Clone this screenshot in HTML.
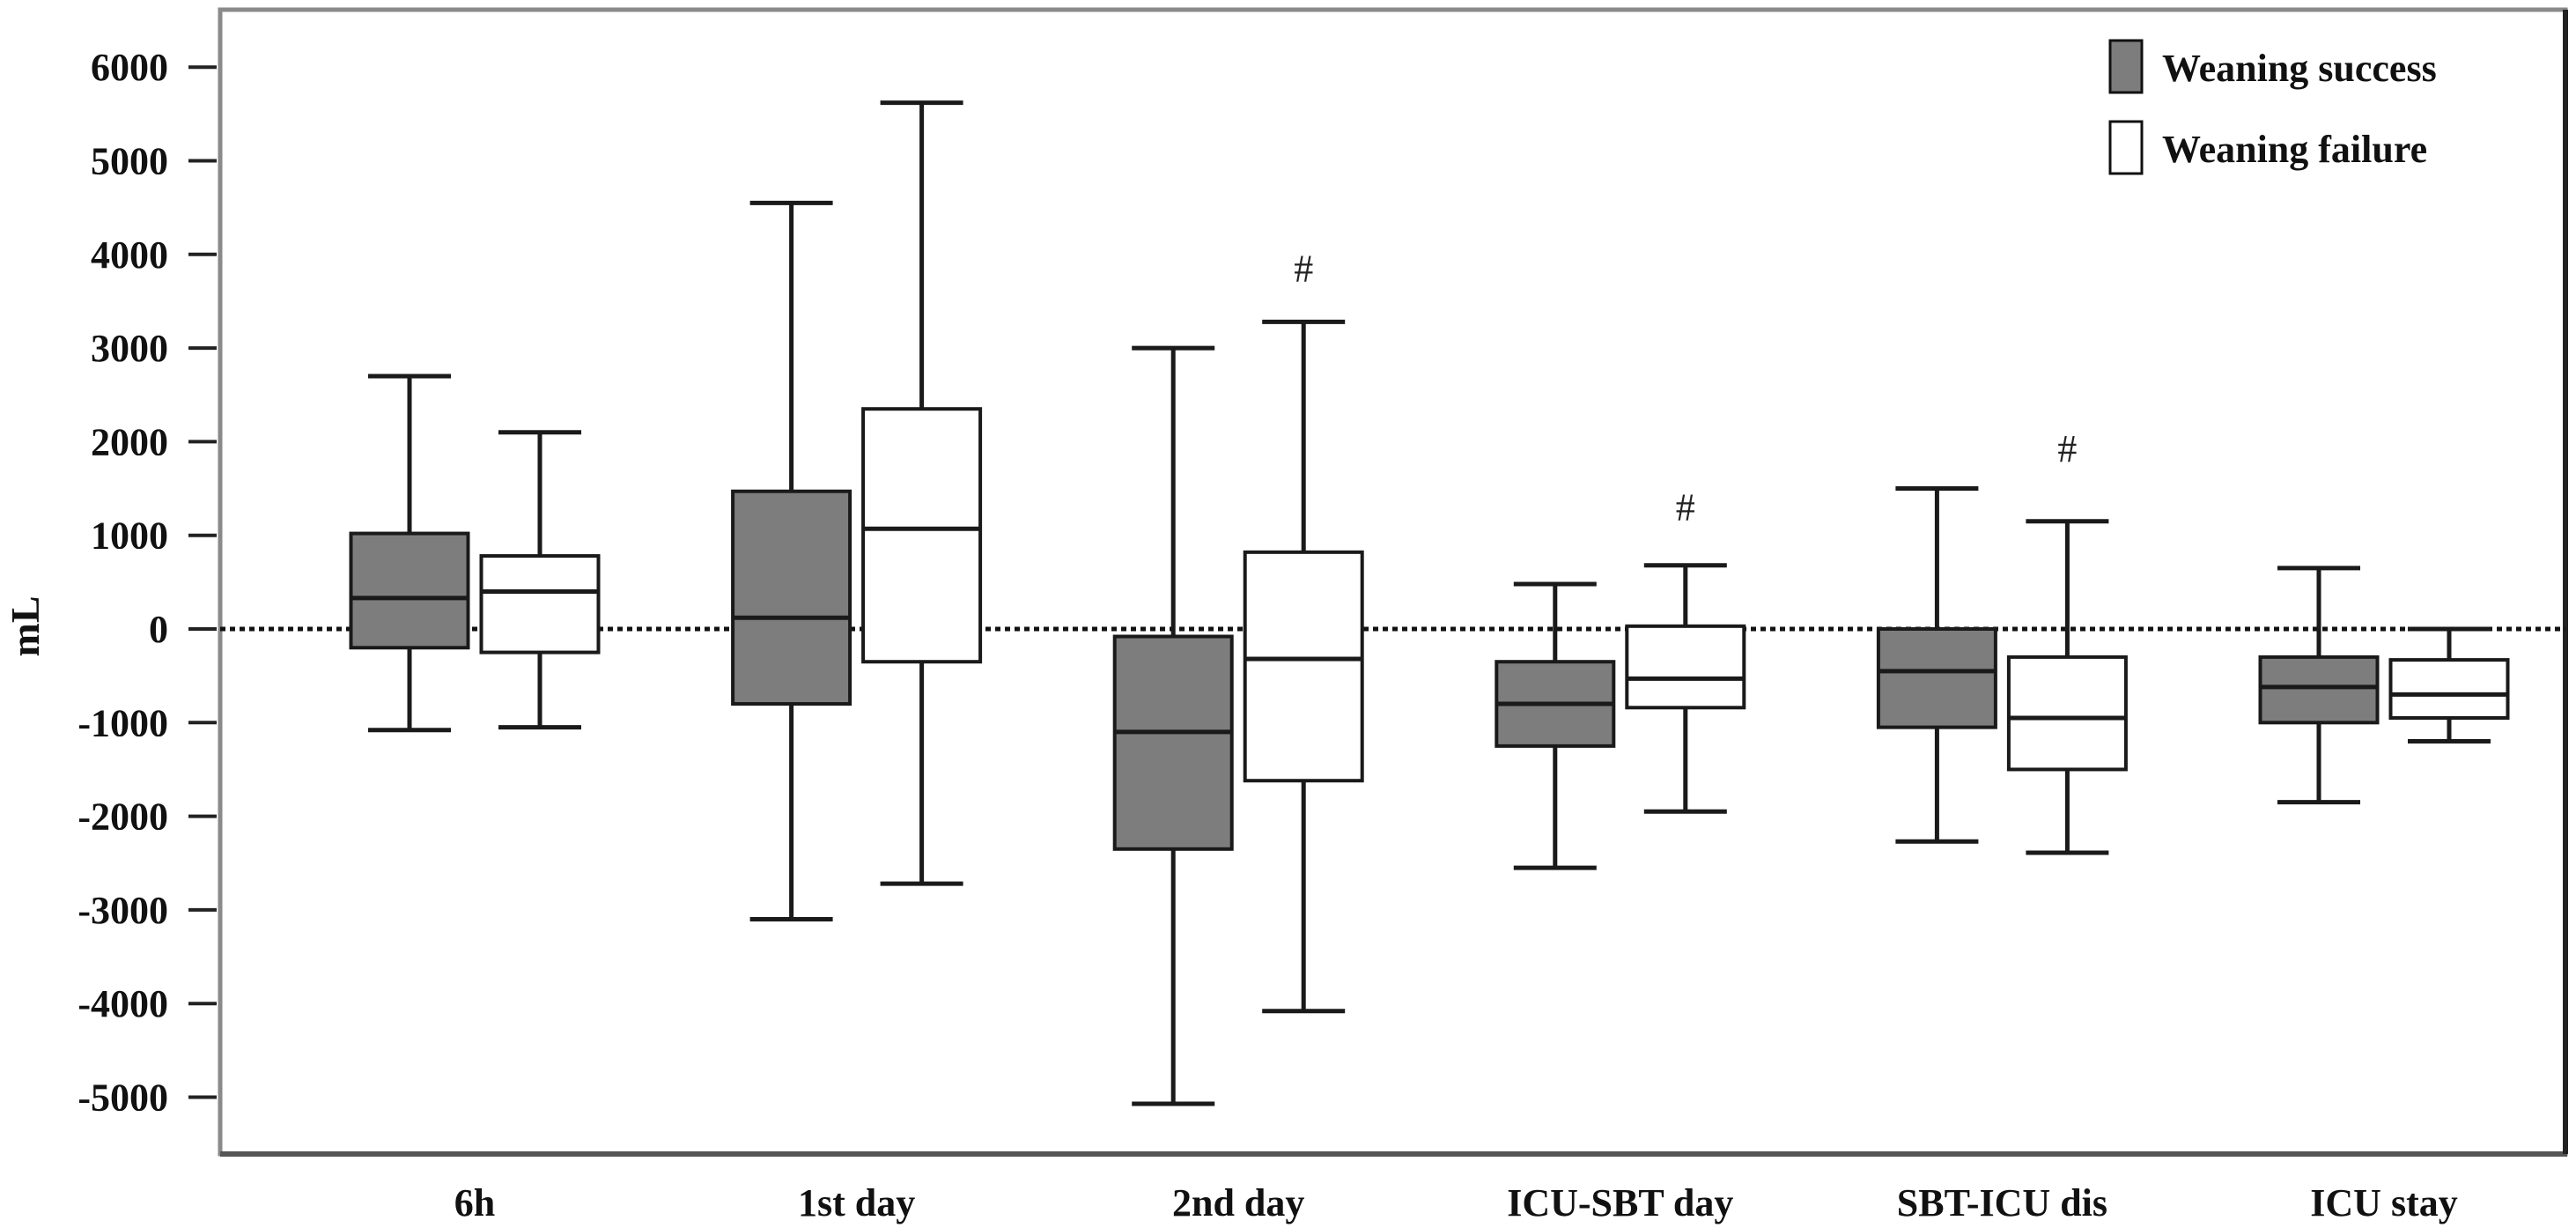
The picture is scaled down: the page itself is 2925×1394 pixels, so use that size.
<!DOCTYPE html>
<html><head><meta charset="utf-8"><style>
html,body{margin:0;padding:0;background:#fff;}
svg{display:block;font-family:"Liberation Serif",serif;}
</style></head><body>
<svg id="chart" width="2925" height="1394" viewBox="0 0 2925 1394" xmlns="http://www.w3.org/2000/svg">
<rect x="0" y="0" width="2925" height="1394" fill="#fff"/>
<g id="axes"></g>
<g id="plot"></g>
<g>
 <rect x="2396" y="46" width="36" height="59" fill="#7d7d7d" stroke="#111" stroke-width="3"/>
 <text x="2455" y="92" font-size="44" font-weight="bold" fill="#111">Weaning success</text>
 <rect x="2396" y="138" width="36" height="59" fill="#fff" stroke="#111" stroke-width="3"/>
 <text x="2455" y="184" font-size="44" font-weight="bold" fill="#111">Weaning failure</text>
</g>
</svg>
<script>
const categories = ["6h","1st day","2nd day","ICU-SBT day","SBT-ICU dis","ICU stay"];
const successMin = [-1080,-3100,-5070,-2550,-2270,-1850];
const successQ1 = [-200,-800,-2350,-1250,-1050,-1000];
const successMed = [330,120,-1100,-800,-450,-620];
const successQ3 = [1020,1470,-80,-350,0,-300];
const successMax = [2700,4550,3000,480,1500,650];
const failureMin = [-1050,-2720,-4080,-1950,-2390,-1200];
const failureQ1 = [-250,-350,-1620,-840,-1500,-950];
const failureMed = [400,1070,-320,-530,-950,-700];
const failureQ3 = [780,2350,820,30,-300,-330];
const failureMax = [2100,5620,3280,680,1150,0];
const hashValues = [null,null,3860,1310,1940,null];
const yTicks = [6000,5000,4000,3000,2000,1000,0,-1000,-2000,-3000,-4000,-5000];

const NS="http://www.w3.org/2000/svg";
const L=250,R=2913,T=11,B=1310;
function y(v){return 714 - v*0.1063;}
function xc(i){return 539 + i*433.6;}
function mk(tag,attrs,parent){const e=document.createElementNS(NS,tag);for(const k in attrs)e.setAttribute(k,attrs[k]);parent.appendChild(e);return e;}
const axes=document.getElementById('axes'), plot=document.getElementById('plot');

let fr=mk('rect',{x:L,y:T,width:R-L,height:B-T,fill:'none',stroke:'#8a8a8a','stroke-width':5},axes);


let bl=mk('line',{x1:L,y1:B,x2:R+2,y2:B,stroke:'#555','stroke-width':6},axes);


let rl=mk('line',{x1:R,y1:T,x2:R,y2:B,stroke:'#222','stroke-width':6},axes);



yTicks.forEach(v=>{
  let t=mk('line',{x1:214,x2:246,y1:y(v),y2:y(v),stroke:'#222','stroke-width':4},axes);
  
  
  let tx=mk('text',{x:191,y:y(v)+15,'text-anchor':'end','font-size':44,'font-weight':'bold',fill:'#111'},axes);
  tx.textContent=v;
  
  
});
let yt=mk('text',{x:44,y:711,'text-anchor':'middle','font-size':46,'font-weight':'bold',fill:'#111',transform:'rotate(-90 44 711)'},axes);
yt.textContent='mL';



categories.forEach((c,i)=>{
  let t=mk('text',{x:xc(i),y:1380,'text-anchor':'middle','font-size':44,'font-weight':'bold',fill:'#111'},axes);
  t.textContent=c;
  
  
});

let zl=mk('line',{x1:L,x2:R,y1:y(0),y2:y(0),stroke:'#111','stroke-width':5,'stroke-dasharray':'6 5'},plot);



function box(i,off,mn,q1,md,q3,mx,fill,name){
  const cx=xc(i)+off, w=133, cw=47;
  const g=mk('g',{},plot);
  
  
  mk('line',{x1:cx,x2:cx,y1:y(mx),y2:y(q3),stroke:'#1a1a1a','stroke-width':5},g);
  mk('line',{x1:cx,x2:cx,y1:y(q1),y2:y(mn),stroke:'#1a1a1a','stroke-width':5},g);
  mk('line',{x1:cx-cw,x2:cx+cw,y1:y(mx),y2:y(mx),stroke:'#1a1a1a','stroke-width':5},g);
  mk('line',{x1:cx-cw,x2:cx+cw,y1:y(mn),y2:y(mn),stroke:'#1a1a1a','stroke-width':5},g);
  mk('rect',{x:cx-w/2,y:y(q3),width:w,height:y(q1)-y(q3),fill:fill,stroke:'#1a1a1a','stroke-width':4},g);
  mk('line',{x1:cx-w/2,x2:cx+w/2,y1:y(md),y2:y(md),stroke:'#1a1a1a','stroke-width':5},g);
}
categories.forEach((c,i)=>{
  box(i,-74,successMin[i],successQ1[i],successMed[i],successQ3[i],successMax[i],'#7d7d7d','box-success-'+i);
  box(i,74,failureMin[i],failureQ1[i],failureMed[i],failureQ3[i],failureMax[i],'#fff','box-failure-'+i);
  if(hashValues[i]!==null){
    let h=mk('text',{x:xc(i)+74,y:y(hashValues[i])+16,'text-anchor':'middle','font-size':44,fill:'#222'},plot);
    h.textContent='#';
    
    
  }
});
</script>
</body></html>
